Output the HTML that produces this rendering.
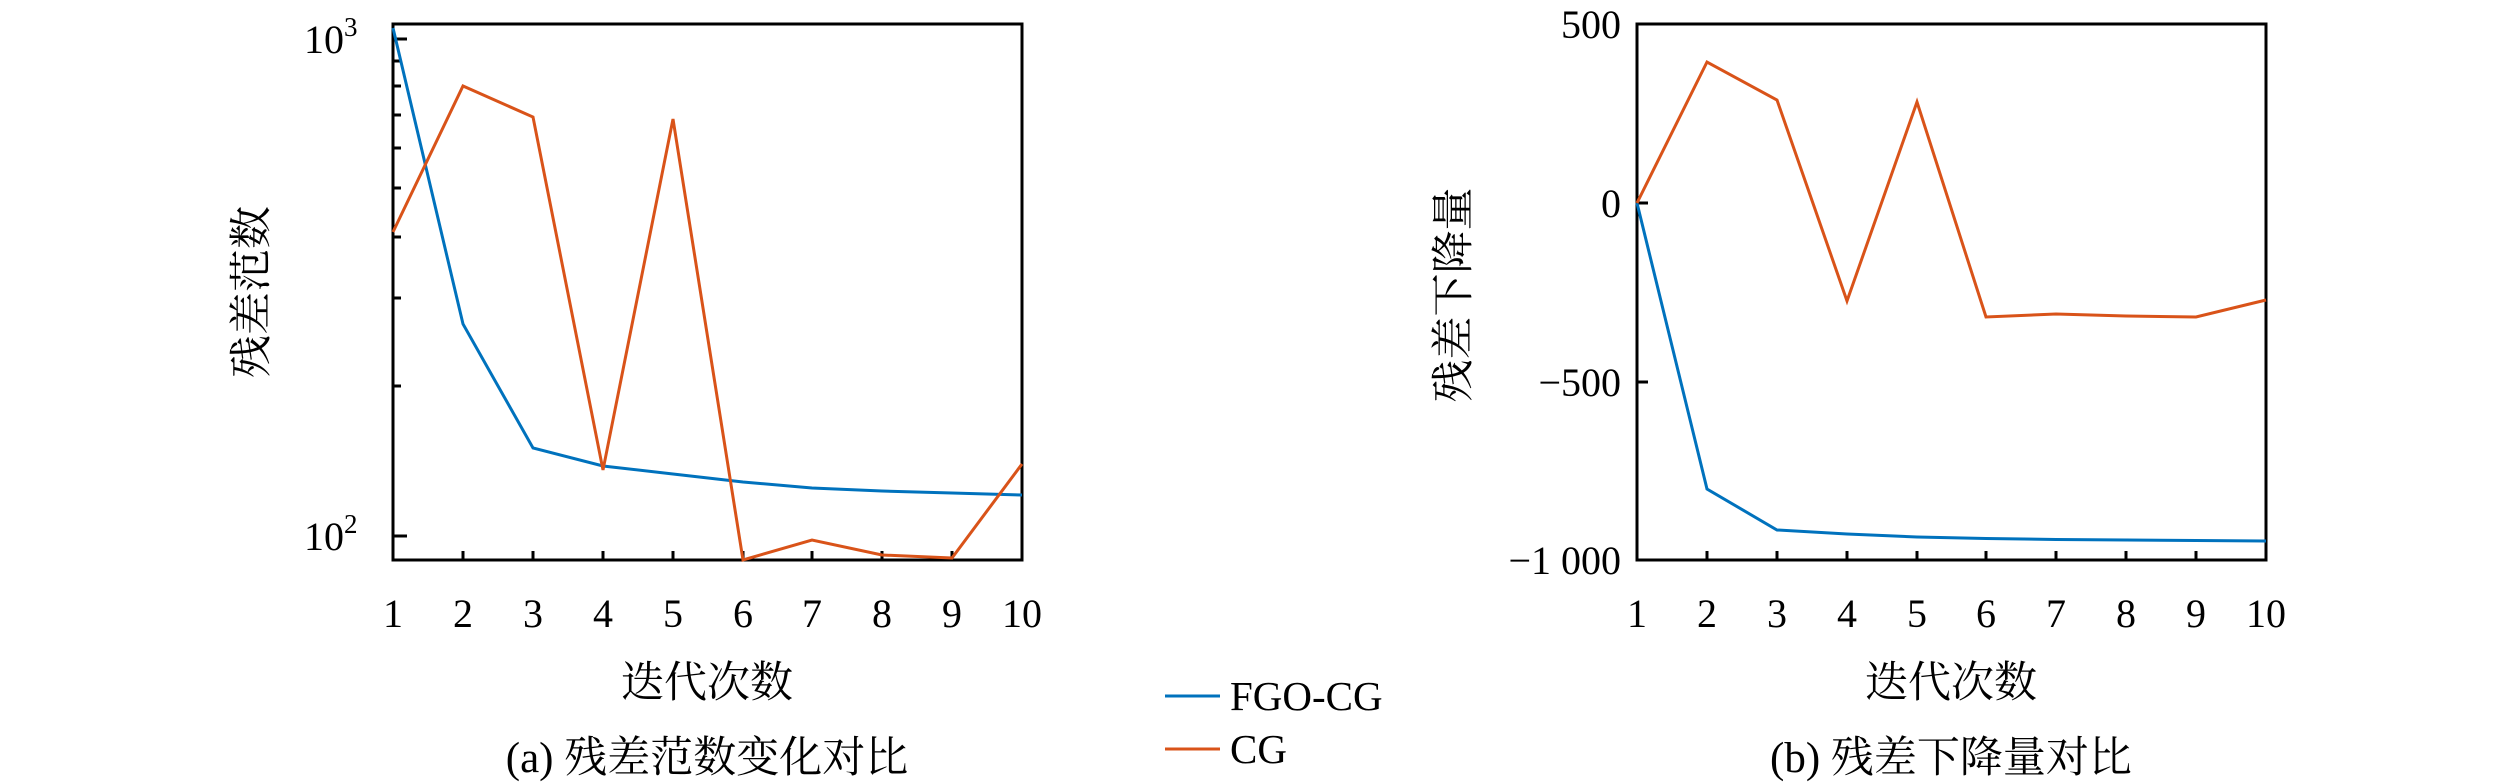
<!DOCTYPE html>
<html><head><meta charset="utf-8"><style>
html,body{margin:0;padding:0;background:#fff;}
svg{display:block;}
text{font-family:"Liberation Serif","Noto Serif CJK SC",serif;fill:#000;}
.cj{font-family:"Liberation Serif","Noto Serif CJK SC","Noto Sans CJK SC",serif;}
</style></head><body>
<svg width="2520" height="783" viewBox="0 0 2520 783" xmlns="http://www.w3.org/2000/svg">
<!-- Left plot -->
<g stroke="#000" stroke-width="3" fill="none">
<rect x="393" y="24" width="629" height="536"/>
<path d="M463 560v-9M533 560v-9M603 560v-9M673 560v-9M743 560v-9M812 560v-9M882 560v-9M952 560v-9"/>
<path d="M393 39h14M393 536h14"/>
<path d="M393 386h8M393 298h8M393 237h8M393 188h8M393 148h8M393 115h8M393 86h8M393 61h8"/>
</g>
<polyline fill="none" stroke="#0072BD" stroke-width="3" points="393,28 463,324 533,448 603,466 673,474 743,482 812,488 882,491 952,493 1022,495"/>
<polyline fill="none" stroke="#D95319" stroke-width="3" points="393,232 463,86 533,117 603,470 673,119 743,560 812,540 882,555 952,558 1022,464"/>
<g font-size="40" text-anchor="middle">
<text x="393" y="627">1</text><text x="463" y="627">2</text><text x="533" y="627">3</text><text x="603" y="627">4</text><text x="673" y="627">5</text><text x="743" y="627">6</text><text x="812" y="627">7</text><text x="882" y="627">8</text><text x="952" y="627">9</text><text x="1022" y="627">10</text>
</g>
<text x="304" y="53" font-size="40">10<tspan font-size="27" dy="-17">3</tspan></text>
<text x="304" y="550" font-size="40">10<tspan font-size="27" dy="-17">2</tspan></text>
<text class="cj" font-size="43" text-anchor="middle" transform="translate(266,292) rotate(-90)">残差范数</text>
<text class="cj" x="707" y="697" font-size="43" text-anchor="middle">迭代次数</text>
<text class="cj" x="707" y="772" font-size="43" text-anchor="middle">(a) 残差范数变化对比</text>

<!-- Legend -->
<line x1="1165" y1="696" x2="1220" y2="696" stroke="#0072BD" stroke-width="3"/>
<line x1="1165" y1="749" x2="1220" y2="749" stroke="#D95319" stroke-width="3"/>
<text x="1230" y="710" font-size="41">FGO-CG</text>
<text x="1230" y="763" font-size="41">CG</text>

<!-- Right plot -->
<g stroke="#000" stroke-width="3" fill="none">
<rect x="1637" y="24" width="629" height="536"/>
<path d="M1707 560v-9M1777 560v-9M1847 560v-9M1917 560v-9M1986 560v-9M2056 560v-9M2126 560v-9M2196 560v-9"/>
<path d="M1637 203h11M1637 382h11"/>
</g>
<polyline fill="none" stroke="#0072BD" stroke-width="3" points="1637,203 1707,489 1777,530 1847,534 1917,537 1986,538.5 2056,539.5 2126,540 2196,540.5 2266,541"/>
<polyline fill="none" stroke="#D95319" stroke-width="3" points="1637,203 1707,62 1777,100 1847,301 1917,102 1986,317 2056,314 2126,316 2196,317 2266,300"/>
<g font-size="40" text-anchor="middle">
<text x="1637" y="627">1</text><text x="1707" y="627">2</text><text x="1777" y="627">3</text><text x="1847" y="627">4</text><text x="1917" y="627">5</text><text x="1986" y="627">6</text><text x="2056" y="627">7</text><text x="2126" y="627">8</text><text x="2196" y="627">9</text><text x="2266" y="627">10</text>
</g>
<g font-size="40" text-anchor="end">
<text x="1621" y="38">500</text>
<text x="1621" y="217">0</text>
<text x="1621" y="396">−500</text>
<text x="1621" y="574">−1 000</text>
</g>
<text class="cj" font-size="43" text-anchor="middle" transform="translate(1468,295) rotate(-90)">残差下降量</text>
<text class="cj" x="1951" y="697" font-size="43" text-anchor="middle">迭代次数</text>
<text class="cj" x="1951" y="772" font-size="43" text-anchor="middle">(b) 残差下降量对比</text>
</svg>
</body></html>
